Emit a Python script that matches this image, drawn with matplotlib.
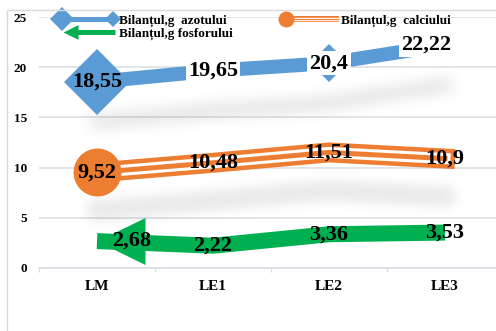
import numpy as np
import matplotlib.pyplot as plt
from matplotlib.lines import Line2D
from matplotlib.path import Path
from matplotlib.patches import Rectangle
from matplotlib.legend_handler import HandlerBase

plt.rcParams['font.family'] = ['Liberation Serif', 'DejaVu Serif']
plt.rcParams['font.weight'] = 'bold'

# Date
categorii = ['LM', 'LE1', 'LE2', 'LE3']
azot = [18.55, 19.65, 20.4, 22.22]
calciu = [9.52, 10.48, 11.51, 10.9]
fosfor = [2.68, 2.22, 3.36, 3.53]
serii = ['Bilanțul,g  azotului', 'Bilanțul,g  calciului', 'Bilanțul,g fosforului']

ALBASTRU = '#5b9bd5'
PORTOCALIU = '#ed7d31'
VERDE = '#00b050'
GRI = '#d9dde3'

px = 72 / 100  # puncte pe pixel la dpi=100

# varf de sageata cu varful in origine, indreptat spre stanga
SAGEATA = Path([(0, 0), (1, 0.49), (1, -0.49), (0, 0)],
               [Path.MOVETO, Path.LINETO, Path.LINETO, Path.CLOSEPOLY])


def eticheta(v):
    return f'{v:g}'.replace('.', ',')


def umbra(dy, sigma, putere):
    # umbra estompata, deplasata in jos cu dy pixeli
    def filtru(im, dpi):
        pad = int(3 * sigma) + 2
        a = np.pad(im[:, :, 3], pad)
        k = np.exp(-0.5 * (np.arange(-pad, pad + 1) / sigma) ** 2)
        k /= k.sum()
        a = np.apply_along_axis(lambda r: np.convolve(r, k, mode='same'), 0, a)
        a = np.apply_along_axis(lambda r: np.convolve(r, k, mode='same'), 1, a)
        out = np.zeros(a.shape + (4,))
        out[..., 3] = np.clip(a * putere, 0, 1)
        return out, -pad, -pad - dy
    return filtru


class Simbol(HandlerBase):
    def __init__(self, deseneaza):
        super().__init__()
        self.deseneaza = deseneaza

    def create_artists(self, legend, orig_handle, xdescent, ydescent,
                       width, height, fontsize, trans):
        x0 = -xdescent
        x1 = x0 + width
        y = -ydescent + height / 2
        artists = self.deseneaza(x0, x1, y)
        for a in artists:
            a.set_transform(trans)
        return artists


def simbol_azot(x0, x1, y):
    return [Line2D([x0 + 12 * px, x1 - 3 * px], [y, y], color=ALBASTRU, lw=5 * px),
            Line2D([x0 + 12 * px], [y], ls='none', marker='D', ms=12.7, mew=0, color=ALBASTRU),
            Line2D([x1 - 3 * px], [y], ls='none', marker='D', ms=8.6, mew=0, color=ALBASTRU)]


def simbol_calciu(x0, x1, y):
    xs = [x0 + 14 * px, x1 + 1 * px]
    return [Line2D(xs, [y, y], color=PORTOCALIU, lw=6 * px, solid_capstyle='butt'),
            Line2D(xs, [y, y], color='white', lw=3.4 * px, solid_capstyle='butt'),
            Line2D(xs, [y, y], color=PORTOCALIU, lw=1.2 * px, solid_capstyle='butt'),
            Line2D([xs[0]], [y], ls='none', marker='o', ms=11.5, mew=0, color=PORTOCALIU)]


def simbol_fosfor(x0, x1, y):
    return [Line2D([x0 + 20 * px, x1 - 1 * px], [y, y], color=VERDE, lw=5 * px, solid_capstyle='butt'),
            Line2D([x0 + 13 * px], [y], ls='none', marker=SAGEATA, ms=30 * px, mew=0, color=VERDE)]


fig = plt.figure(figsize=(4.96, 3.31), dpi=100)
ax = fig.add_axes([39 / 496, 63 / 331, 464 / 496, 251 / 331])
x = np.arange(len(categorii))

# umbrele liniilor
ax.plot(x, azot, color='k', lw=14 * px, agg_filter=umbra(40, 7, 0.11), zorder=1)
ax.plot(x, calciu, color='k', lw=20 * px, agg_filter=umbra(38, 6, 0.09), zorder=1)

# azot
ax.plot(x, azot, color=ALBASTRU, lw=14 * px, zorder=3)
ax.plot(x, azot, ls='none', marker='D', markevery=[0], ms=34, mew=0, color=ALBASTRU, zorder=3)
ax.plot(x, azot, ls='none', marker='D', markevery=[2], ms=19.3, mew=0, color=ALBASTRU, zorder=3)

# calciu - linie tripla
ax.plot(x, calciu, color=PORTOCALIU, lw=20 * px, zorder=3)
ax.plot(x, calciu, color='white', lw=11 * px, zorder=3)
ax.plot(x, calciu, color=PORTOCALIU, lw=5 * px, zorder=3)
ax.plot(x, calciu, ls='none', marker='o', markevery=[0], ms=34.5, mew=0, color=PORTOCALIU, zorder=3)

# fosfor - sageata
ax.plot(x, fosfor, color=VERDE, lw=16 * px, solid_capstyle='butt', zorder=3)
ax.plot(x, fosfor, ls='none', marker=SAGEATA, markevery=[0], ms=96 * px, mew=0, color=VERDE, zorder=3)

# etichete de date
caseta = dict(boxstyle='square,pad=0.1', fc='white', ec='none')
decalaj_azot = [(0, 0), (0, 0), (0, 0), (-19, 0)]
decalaj_fosfor = [(35, 0), (0, 0), (0, 0), (0, 0)]
for i, v in enumerate(azot):
    ax.annotate(eticheta(v), (x[i], v), xytext=(decalaj_azot[i][0] * px, decalaj_azot[i][1] * px),
                textcoords='offset points', ha='center', va='center', fontsize=16,
                bbox=caseta if i > 0 else None, zorder=5)
for i, v in enumerate(calciu):
    ax.annotate(eticheta(v), (x[i], v), ha='center', va='center', fontsize=16, zorder=5)
for i, v in enumerate(fosfor):
    ax.annotate(eticheta(v), (x[i], v), xytext=(decalaj_fosfor[i][0] * px, decalaj_fosfor[i][1] * px),
                textcoords='offset points', ha='center', va='center', fontsize=16, zorder=5)

# axe
ax.set_xlim(-0.5, 3.5)
ax.set_ylim(0, 25)
ax.set_yticks([0, 5, 10, 15, 20, 25])
ax.set_xticks(x)
ax.set_xticklabels(categorii)
ax.set_xticks([-0.5, 0.5, 1.5, 2.5, 3.5], minor=True)
ax.tick_params(axis='y', length=0, pad=8.6, labelsize=9.5)
ax.tick_params(axis='x', which='major', length=0, pad=8.5, labelsize=11)
ax.tick_params(axis='x', which='minor', length=3, width=1, color=GRI)
ax.yaxis.grid(True, color=GRI, lw=1.1)
ax.set_axisbelow(True)
for s in ['left', 'right', 'top']:
    ax.spines[s].set_visible(False)
ax.spines['bottom'].set_color(GRI)
ax.spines['bottom'].set_linewidth(1.1)

# legenda
h_azot, h_calciu, h_fosfor = Line2D([], []), Line2D([], []), Line2D([], [])
ax.legend([h_azot, h_fosfor, h_calciu], [serii[0], serii[2], serii[1]], ncol=2,
          loc='upper left', bbox_to_anchor=(50 / 496, 1 - 14 / 331), bbox_transform=fig.transFigure,
          frameon=False, borderpad=0, borderaxespad=0, handlelength=5.0, handletextpad=0.23,
          columnspacing=2.95, labelspacing=0.1, prop=dict(size=9.5, weight='bold'),
          handler_map={h_azot: Simbol(simbol_azot), h_calciu: Simbol(simbol_calciu),
                       h_fosfor: Simbol(simbol_fosfor)})

# chenarul diagramei
fig.patches.append(Rectangle((7 / 496, -0.5), 2, 1.5 - 10 / 331, transform=fig.transFigure,
                             fill=False, ec='#d9d9d9', lw=1))

fig.savefig('out.png', dpi=100)
